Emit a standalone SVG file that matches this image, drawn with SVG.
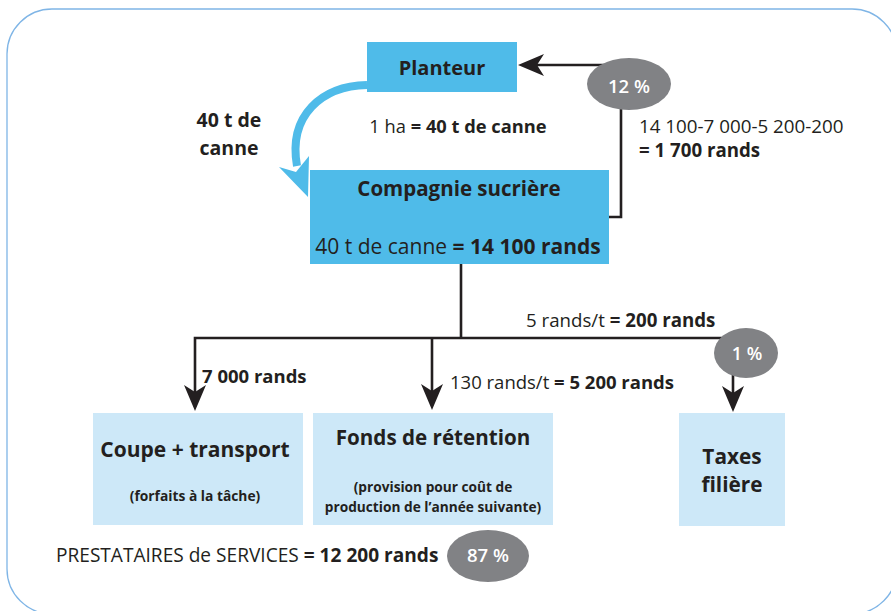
<svg xmlns="http://www.w3.org/2000/svg" width="891" height="611" viewBox="0 0 891 611">
<style>
text{font-family:"Open Sans","Liberation Sans",sans-serif;fill:#231f20}
.b{font-weight:700}
.r{font-weight:400}
.c{text-anchor:middle}
.blue{fill:#4fbbe9}
.light{fill:#cde8f8}
.pill{fill:#818285}
.pt{fill:#ffffff;font-weight:600;text-anchor:middle}
.ln{fill:none;stroke:#231f20;stroke-width:2.6}
</style>
<defs>
<marker id="ah" viewBox="-27 -12 28 24" markerWidth="28" markerHeight="24" refX="-5" refY="0" orient="auto-start-reverse" markerUnits="userSpaceOnUse">
<path d="M0,0 L-26,-11 L-19,0 L-26,11 Z" fill="#231f20"/>
</marker>
</defs>
<rect id="frame" x="7" y="9" width="890" height="605" rx="45" ry="45" fill="#ffffff" stroke="#7fb5e6" stroke-width="1.3"/>

<g id="connectors">
<path class="ln" d="M609,217 H621 V65 H523" marker-end="url(#ah)"/>
<path class="ln" d="M461,264 V338"/>
<path class="ln" d="M195,406 V338 H733 V407" marker-start="url(#ah)" marker-end="url(#ah)"/>
<path class="ln" d="M432,338 V405" marker-end="url(#ah)"/>
<path d="M367,85 C322,86 288,115 297,166" fill="none" stroke="#4fbbe9" stroke-width="8"/>
<polygon points="308,197 279,167 296,172 309,156" fill="#4fbbe9"/>
</g>

<g id="labels">
<text class="b c" x="229" y="127" font-size="19.5">40 t de</text>
<text class="b c" x="229" y="155" font-size="19.5">canne</text>
<text class="c" x="458" y="133" font-size="18.3"><tspan class="r">1 ha </tspan><tspan class="b">= 40 t de canne</tspan></text>
<text x="639" y="133" font-size="18.8" class="r">14 100-7 000-5 200-200</text>
<text x="639" y="157" font-size="18.7" class="b">= 1 700 rands</text>
<text x="526" y="327" font-size="18.7"><tspan class="r">5 rands/t </tspan><tspan class="b">= 200 rands</tspan></text>
<text x="202" y="383" font-size="18.5" class="b">7 000 rands</text>
<text x="450" y="389" font-size="18.5"><tspan class="r">130 rands/t </tspan><tspan class="b">= 5 200 rands</tspan></text>
<text x="56" y="562" font-size="19.1"><tspan class="r">PRESTATAIRES de SERVICES </tspan><tspan class="b">= 12 200 rands</tspan></text>
</g>

<g id="planteur">
<rect class="blue" x="367" y="42" width="150" height="50"/>
<text class="b c" x="442" y="75" font-size="20">Planteur</text>
</g>

<g id="compagnie">
<rect class="blue" x="310" y="170" width="299" height="94"/>
<text class="b c" x="459" y="196" font-size="20.5">Compagnie sucrière</text>
<text class="c" x="458" y="254" font-size="21"><tspan class="r">40 t de canne </tspan><tspan class="b">= 14 100 rands</tspan></text>
</g>

<g id="coupe">
<rect class="light" x="93" y="413" width="210" height="112"/>
<text class="b c" x="195" y="457" font-size="21">Coupe + transport</text>
<text class="b c" x="195" y="501" font-size="13.8">(forfaits à la tâche)</text>
</g>

<g id="fonds">
<rect class="light" x="313" y="413" width="240" height="112"/>
<text class="b c" x="433" y="445" font-size="20.6">Fonds de rétention</text>
<text class="b c" x="433" y="492" font-size="13.7">(provision pour coût de</text>
<text class="b c" x="433" y="512" font-size="13.7">production de l’année suivante)</text>
</g>

<g id="taxes">
<rect class="light" x="679" y="413" width="106" height="113"/>
<text class="b c" x="732" y="464" font-size="20.8">Taxes</text>
<text class="b c" x="732" y="492" font-size="20.8">filière</text>
</g>

<g id="pct12">
<ellipse class="pill" cx="629" cy="84" rx="42" ry="26"/>
<text class="pt" x="629" y="93" font-size="18.5">12 %</text>
</g>

<g id="pct1">
<ellipse class="pill" cx="746" cy="353" rx="32" ry="25"/>
<text class="pt" x="747" y="360" font-size="18">1 %</text>
</g>

<g id="pct87">
<ellipse class="pill" cx="488" cy="556" rx="41" ry="26"/>
<text class="pt" x="488" y="562" font-size="18.5">87 %</text>
</g>
</svg>
